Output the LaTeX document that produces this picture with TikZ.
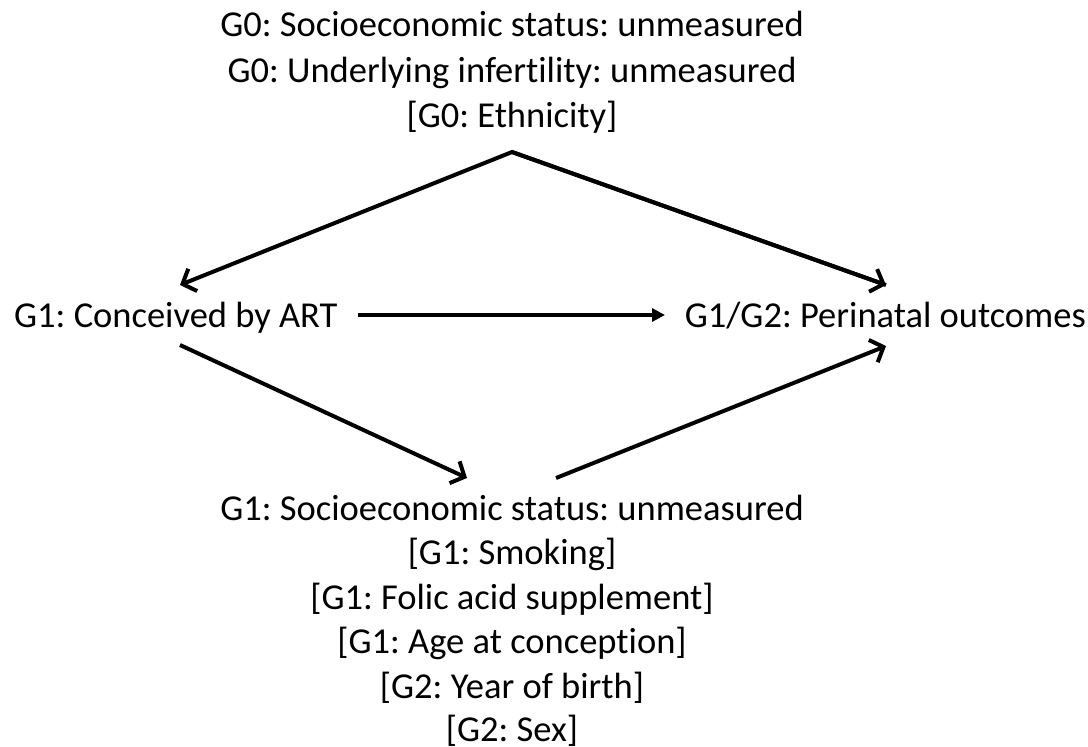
\documentclass[tikz,border=0pt]{standalone}
\usepackage{fontspec}
\setmainfont[Ligatures={NoCommon}]{Carlito}
\frenchspacing
\usetikzlibrary{arrows.meta}
\begin{document}
\begin{tikzpicture}[x=1pt,y=-1pt,
  lbl/.style={inner sep=0pt,anchor=base,font=\fontsize{36.5}{44.5}\selectfont},
  barb/.style={line width=4pt,-{Straight Barb[length=11pt,width=24pt,line width=4pt]}},
  tri/.style={line width=3.2pt,-{Triangle[length=13pt,width=13pt]}}]
\useasboundingbox (0,0) rectangle (1088,747);
% top group
\node[lbl] (t1) at (512,36.5) {G0: Socioeconomic status: unmeasured};
\node[lbl] (t2) at (512,82) {G0: Underlying infertility: unmeasured};
\node[lbl] (t3) at (512,127.5) {[G0: Ethnicity]};
% middle
\node[lbl,anchor=base west] (art) at (14,327) {G1: Conceived by ART};
\node[lbl,anchor=base east] (out) at (1086,327) {G1/G2: Perinatal outcomes};
% bottom group
\node[lbl] (b1) at (512,520) {G1: Socioeconomic status: unmeasured};
\node[lbl] (b2) at (512,564.5) {[G1: Smoking]};
\node[lbl] (b3) at (512,609) {[G1: Folic acid supplement]};
\node[lbl] (b4) at (512,653.5) {[G1: Age at conception]};
\node[lbl] (b5) at (512,698) {[G2: Year of birth]};
\node[lbl] (b6) at (512,741.5) {[G2: Sex]};
% connector ends
\coordinate (apex) at (512,152);
\coordinate (artin) at (180,285);
\coordinate (outinA) at (886,285);
\coordinate (artout) at (180,345);
\coordinate (b1in) at (467,478);
\coordinate (b1out) at (556,478);
\coordinate (outinB) at (886,346);
\coordinate (hstart) at (358,315);
\coordinate (hend) at (665,315);
% connectors
\draw[barb,line join=miter] (outinA) -- (apex) -- (artin);
\draw[barb] (apex) -- (outinA);
\draw[tri] (hstart) -- (hend);
\draw[barb] (artout) -- (b1in);
\draw[barb] (b1out) -- (outinB);
\end{tikzpicture}
\end{document}
